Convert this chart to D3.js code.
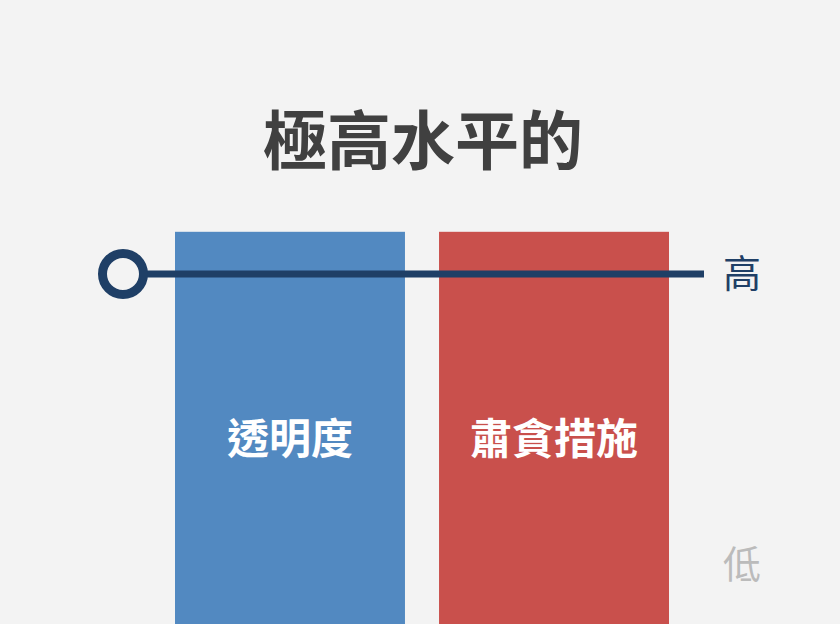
<!DOCTYPE html>
<html>
<head>
<meta charset="utf-8">
<script src="https://cdn.jsdelivr.net/npm/d3@7"></script>
<style>
	html, body { margin: 0; padding: 0; background: #f3f3f3; }
	svg { display: block; }
</style>
</head>
<body>
<svg id="svg"></svg>
<script>
	var title = "極高水平的";
	var categories = ["透明度", "肅貪措施"];
	var barValues = [1.145, 1.145];   // both sit above the "high" mark
	var barColors = ["#5289c1", "#c9504c"];
	var levelLabels = ["低", "高"];
	var levelValues = [0, 1];
	var markerValue = 1;

	var width = 840,
		height = 624,
		navy = "#1f3f66",
		font = "'Noto Sans CJK TC', 'Noto Sans CJK SC', sans-serif";

	var svg = d3.select("#svg")
		.attr("width", width)
		.attr("height", height);

	svg.append("rect")
		.attr("width", width)
		.attr("height", height)
		.attr("fill", "#f3f3f3");

	var x = d3.scaleBand()
		.domain(categories)
		.range([175, 669])
		.paddingInner(0.129);

	// 低 -> 高
	var y = d3.scaleLinear()
		.domain([0, 1])
		.range([565, 274]);

	var yBottom = y.invert(height + 2);

	svg.append("text")
		.attr("x", 423)
		.attr("y", 136)
		.attr("text-anchor", "middle")
		.attr("dominant-baseline", "central")
		.attr("font-family", font)
		.attr("font-weight", "bold")
		.attr("font-size", 64)
		.attr("fill", "#404040")
		.text(title);

	var bars = svg.append("g").attr("id", "bars");

	bars.selectAll("rect")
		.data(categories)
		.enter()
		.append("rect")
		.attr("x", function(d){ return x(d); })
		.attr("y", function(d, i){ return y(barValues[i]); })
		.attr("width", x.bandwidth())
		.attr("height", function(d, i){ return y(yBottom) - y(barValues[i]); })
		.attr("fill", function(d, i){ return barColors[i]; });

	bars.selectAll("text")
		.data(categories)
		.enter()
		.append("text")
		.attr("x", function(d){ return x(d) + x.bandwidth()/2; })
		.attr("y", 435)
		.attr("text-anchor", "middle")
		.attr("dominant-baseline", "central")
		.attr("font-family", font)
		.attr("font-weight", "bold")
		.attr("font-size", 42)
		.attr("fill", "#ffffff")
		.text(function(d){ return d; });

	// marker line for "high"
	var marker = svg.append("g").attr("id", "marker");

	marker.append("line")
		.attr("x1", 123)
		.attr("x2", 704)
		.attr("y1", y(markerValue))
		.attr("y2", y(markerValue))
		.attr("stroke", navy)
		.attr("stroke-width", 7);

	marker.append("circle")
		.attr("cx", 123)
		.attr("cy", y(markerValue))
		.attr("r", 20.5)
		.attr("fill", "#f3f3f3")
		.attr("stroke", navy)
		.attr("stroke-width", 9);

	svg.append("g").attr("id", "levels")
		.selectAll("text")
		.data(levelLabels)
		.enter()
		.append("text")
		.attr("x", 742)
		.attr("y", function(d, i){ return y(levelValues[i]) - 4; })
		.attr("text-anchor", "middle")
		.attr("dominant-baseline", "central")
		.attr("font-family", font)
		.attr("font-size", 38)
		.attr("fill", function(d, i){ return i == 1 ? navy : "#bbbbbb"; })
		.text(function(d){ return d; });
</script>
</body>
</html>
